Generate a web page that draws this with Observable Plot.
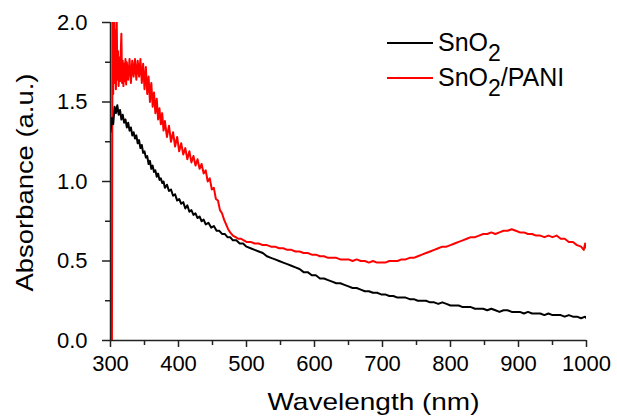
<!DOCTYPE html>
<html>
<head>
<meta charset="utf-8">
<script src="https://cdn.jsdelivr.net/npm/d3@7"></script>
<script src="https://cdn.jsdelivr.net/npm/@observablehq/plot@0.6"></script>
<style>
  html, body { margin: 0; padding: 0; background: #fff; }
  #wrap { position: relative; width: 617px; height: 417px; font-family: "Liberation Sans", Arial, sans-serif; }
  .leg { position: absolute; display: flex; align-items: center; font-size: 25px; color: #000; line-height: 29px; }
  .leg .sw { width: 46px; height: 2px; margin-right: 5px; }
  .leg sub { font-size: 23px; vertical-align: -10px; line-height: 0; }
</style>
</head>
<body>
<div id="wrap"></div>
<script>
// SnO2 series
const snoWl = [300,302,304,306,308,310,312,314,316,318,320,322,324,326,328,330,332,334,336,338,340,342,344,346,348,350,352,354,356,358,360,362,364,366,368,370,372,374,376,378,380,383,386,389,392,395,398,401,404,407,410,413,416,419,422,425,428,431,434,437,440,444,448,452,456,460,464,468,472,476,480,485,490,495,500,506,512,518,524,530,536,542,548,554,560,566,572,578,584,590,596,602,608,614,620,626,632,638,644,650,656,662,668,674,680,686,692,698,704,710,716,722,728,734,740,746,752,758,764,770,776,782,788,794,800,806,812,818,824,830,836,842,848,854,860,866,872,878,884,890,896,902,908,914,920,926,932,938,944,950,956,962,968,974,980,986,992,998,1000];
const snoAbs = [1.31,1.40,1.36,1.47,1.43,1.48,1.42,1.45,1.39,1.42,1.37,1.39,1.34,1.37,1.32,1.34,1.29,1.31,1.27,1.29,1.24,1.26,1.21,1.23,1.18,1.19,1.15,1.16,1.11,1.13,1.08,1.10,1.06,1.07,1.03,1.05,1.01,1.02,0.99,1.00,0.96,0.98,0.94,0.95,0.91,0.92,0.88,0.89,0.86,0.87,0.83,0.85,0.81,0.82,0.79,0.80,0.77,0.78,0.75,0.76,0.73,0.74,0.71,0.72,0.69,0.69,0.67,0.67,0.65,0.65,0.63,0.63,0.61,0.61,0.59,0.58,0.57,0.56,0.55,0.53,0.52,0.51,0.50,0.49,0.48,0.47,0.46,0.45,0.43,0.43,0.41,0.41,0.39,0.39,0.38,0.37,0.36,0.36,0.35,0.34,0.33,0.33,0.32,0.31,0.31,0.30,0.30,0.29,0.29,0.28,0.28,0.27,0.27,0.27,0.26,0.26,0.25,0.25,0.25,0.24,0.24,0.23,0.24,0.23,0.22,0.22,0.22,0.21,0.21,0.21,0.20,0.20,0.20,0.19,0.20,0.19,0.18,0.19,0.19,0.18,0.18,0.18,0.17,0.18,0.17,0.17,0.17,0.16,0.17,0.16,0.16,0.16,0.15,0.16,0.15,0.15,0.14,0.15,0.14];

// SnO2/PANI series
const paniWl = [302,303,304,305,306,307,308,309,310,311,312,313,314,315,316,317,318,319,320,321,322,323,324,326,328,330,332,334,336,338,340,342,344,346,348,350,352,354,356,358,360,362,364,366,368,370,372,374,376,378,380,383,386,389,392,395,398,401,404,407,410,413,416,419,422,425,428,431,434,437,440,443,446,449,452,455,458,461,464,467,470,473,476,480,484,488,492,496,500,506,512,518,524,530,536,542,548,554,560,566,572,578,584,590,596,602,608,614,620,626,632,638,644,650,656,662,668,674,680,686,692,698,704,710,716,722,728,734,740,746,752,758,764,770,776,782,788,794,800,806,812,818,824,830,836,842,848,854,860,866,872,878,884,890,896,902,908,914,920,926,932,938,944,950,956,962,968,974,980,986,992,996,998,1000];
const paniAbs = [-0.3,2.3,1.55,2.2,1.62,1.95,1.58,2.1,1.64,1.82,1.60,1.78,1.63,1.80,1.93,1.62,1.76,1.60,1.74,1.63,1.77,1.61,1.75,1.64,1.77,1.62,1.76,1.66,1.77,1.64,1.76,1.66,1.77,1.62,1.74,1.58,1.72,1.55,1.66,1.50,1.62,1.47,1.56,1.43,1.52,1.39,1.46,1.36,1.43,1.32,1.38,1.28,1.35,1.25,1.31,1.22,1.28,1.19,1.24,1.17,1.21,1.14,1.19,1.12,1.16,1.10,1.14,1.08,1.11,1.05,1.07,1.00,1.02,0.95,0.96,0.89,0.88,0.82,0.80,0.76,0.73,0.70,0.68,0.66,0.65,0.64,0.64,0.63,0.62,0.62,0.61,0.61,0.60,0.60,0.59,0.59,0.58,0.58,0.57,0.57,0.56,0.56,0.55,0.55,0.54,0.54,0.53,0.53,0.52,0.52,0.52,0.51,0.51,0.51,0.50,0.51,0.50,0.50,0.49,0.50,0.49,0.49,0.49,0.50,0.50,0.50,0.51,0.51,0.52,0.52,0.53,0.54,0.55,0.56,0.57,0.58,0.59,0.59,0.60,0.61,0.62,0.63,0.64,0.65,0.65,0.66,0.67,0.67,0.68,0.67,0.68,0.69,0.69,0.70,0.69,0.68,0.68,0.67,0.67,0.66,0.66,0.65,0.66,0.65,0.66,0.64,0.64,0.62,0.62,0.60,0.59,0.57,0.61,0.58];

const xMajor = [300,400,500,600,700,800,900,1000];
const xMinor = [350,450,550,650,750,850,950];
const yMajor = [0,0.5,1.0,1.5,2.0];
const yMinor = [0.25,0.75,1.25,1.75];
const xTitle = "Wavelength (nm)";
const yTitle = "Absorbance (a.u.)";

const sno = snoWl.map((w,i) => ({w, a: snoAbs[i]}));
const pani = paniWl.map((w,i) => ({w, a: paniAbs[i]}));

const axisColor = "#222";
const chart = Plot.plot({
  width: 617,
  height: 417,
  marginLeft: 110,
  marginRight: 31,
  marginTop: 22,
  marginBottom: 77,
  style: {fontFamily: "'Liberation Sans', Arial, sans-serif", background: "transparent", color: "#000"},
  x: {domain: [300, 1000]},
  y: {domain: [0, 2]},
  marks: [
    Plot.line(pani, {x: "w", y: "a", stroke: "#ff0000", strokeWidth: 2, clip: true}),
    Plot.line(sno, {x: "w", y: "a", stroke: "#000", strokeWidth: 2, clip: true}),
    Plot.ruleX([300], {stroke: axisColor, strokeWidth: 1.5}),
    Plot.ruleY([0], {stroke: axisColor, strokeWidth: 1.5}),
    Plot.axisX({ticks: xMajor, tickSize: 7, tickPadding: 8, fontSize: 22, tickFormat: d => String(d), label: null, stroke: axisColor, strokeWidth: 1.5}),
    Plot.axisX({ticks: xMinor, tickSize: 5, text: null, label: null, stroke: axisColor, strokeWidth: 1.5}),
    Plot.axisY({ticks: yMajor, tickSize: 8, tickPadding: 15, fontSize: 22, tickFormat: d => d.toFixed(1), label: null, stroke: axisColor, strokeWidth: 1.5}),
    Plot.axisY({ticks: yMinor, tickSize: 5, text: null, label: null, stroke: axisColor, strokeWidth: 1.5}),
    Plot.text([xTitle], {frameAnchor: "bottom", textAnchor: "middle", lineAnchor: "middle", dy: 62, dx: 25, fontSize: 24, fill: "#000"}),
    Plot.text([yTitle], {frameAnchor: "left", textAnchor: "middle", lineAnchor: "middle", dx: -85, dy: 1, rotate: -90, fontSize: 24, fill: "#000"})
  ]
});
// stretch the two axis titles along their length like the reference lettering
d3.select(chart).selectAll("text").each(function() {
  const t = this.textContent;
  if (t === xTitle) { this.setAttribute("textLength", 212); this.setAttribute("lengthAdjust", "spacingAndGlyphs"); }
  if (t === yTitle) { this.setAttribute("textLength", 218); this.setAttribute("lengthAdjust", "spacingAndGlyphs"); }
});
const wrap = document.getElementById("wrap");
wrap.appendChild(chart);

const legendItems = [
  {color: "#000", top: 28, base: "SnO", sub: "2", rest: ""},
  {color: "#ff0000", top: 63, base: "SnO", sub: "2", rest: "/PANI"}
];
legendItems.forEach(it => {
  const d = document.createElement("div");
  d.className = "leg";
  d.style.left = "387px";
  d.style.top = it.top + "px";
  const sw = document.createElement("span");
  sw.className = "sw";
  sw.style.background = it.color;
  d.appendChild(sw);
  const t = document.createElement("span");
  t.innerHTML = it.base + "<sub>" + it.sub + "</sub>" + it.rest;
  d.appendChild(t);
  wrap.appendChild(d);
});
</script>
</body>
</html>
